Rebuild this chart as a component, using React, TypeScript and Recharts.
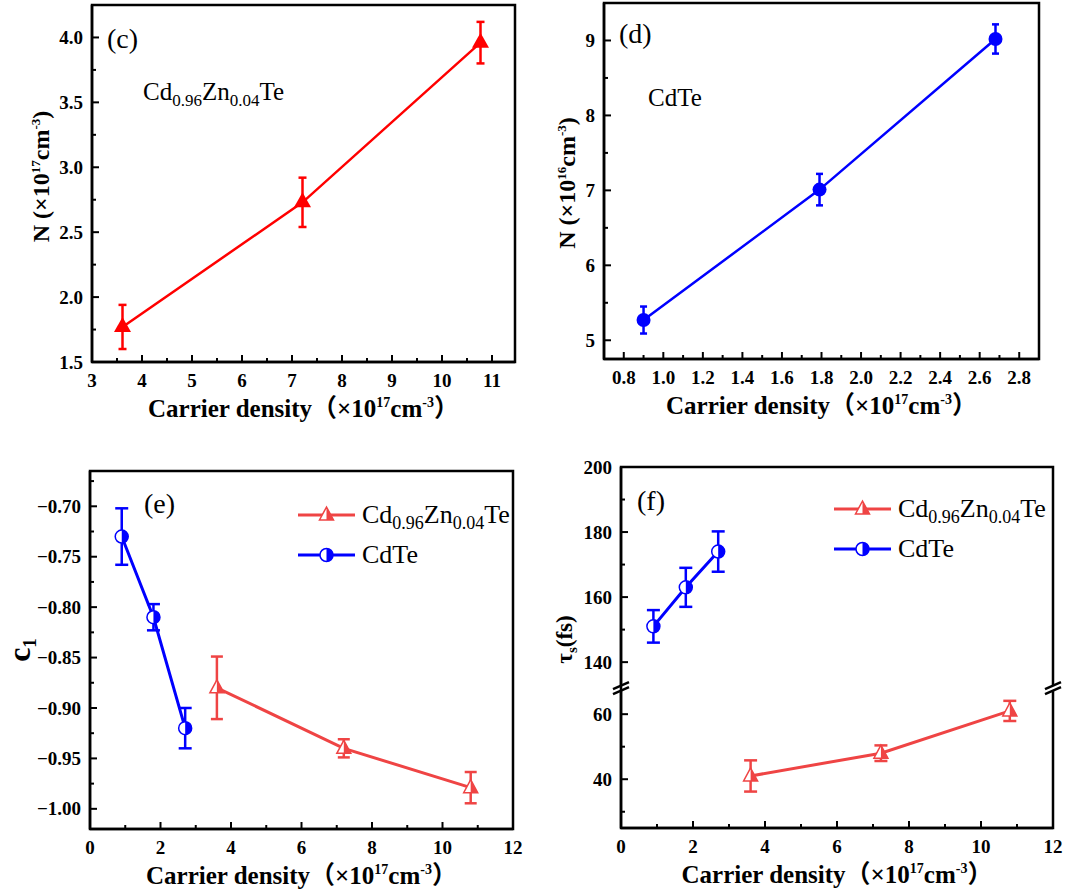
import React from "react";
import {
  LineChart,
  Line,
  XAxis,
  YAxis,
  ErrorBar,
  ReferenceArea,
  ReferenceLine,
  Legend,
} from "recharts";

const FONT = "'Liberation Serif', 'Times New Roman', 'Noto Sans CJK SC', serif";
const RED = "#ff0000";
const BLUE = "#0000ff";
const RED2 = "#ef4444";

const czName = "Cd0.96Zn0.04Te";
const cdName = "CdTe";

// (c) Cd0.96Zn0.04Te, N vs carrier density
const cDensity = [3.61, 7.21, 10.77];
const cN = [1.77, 2.73, 3.96];
const cNErr = [0.17, 0.19, 0.16];
const cXMajor = [3, 4, 5, 6, 7, 8, 9, 10, 11];
const cXMinor = [3.5, 4.5, 5.5, 6.5, 7.5, 8.5, 9.5, 10.5];
const cYMajor = [1.5, 2.0, 2.5, 3.0, 3.5, 4.0];
const cYMinor = [1.75, 2.25, 2.75, 3.25, 3.75];

// (d) CdTe, N vs carrier density
const dDensity = [0.9, 1.79, 2.68];
const dN = [5.27, 7.01, 9.02];
const dNErr = [0.18, 0.21, 0.195];
const dXMajor = [0.8, 1.0, 1.2, 1.4, 1.6, 1.8, 2.0, 2.2, 2.4, 2.6, 2.8];
const dXMinor = [0.9, 1.1, 1.3, 1.5, 1.7, 1.9, 2.1, 2.3, 2.5, 2.7];
const dYMajor = [5, 6, 7, 8, 9];
const dYMinor = [5.5, 6.5, 7.5, 8.5];

// (e) c1
const eCdDensity = [0.9, 1.8, 2.7];
const eCdC1 = [-0.73, -0.81, -0.92];
const eCdErr = [0.028, 0.013, 0.02];
const eCzDensity = [3.6, 7.2, 10.8];
const eCzC1 = [-0.88, -0.94, -0.979];
const eCzErr = [0.031, 0.009, 0.0155];
const eXMajor = [0, 2, 4, 6, 8, 10, 12];
const eXMinor = [1, 3, 5, 7, 9, 11];
const eYMajor = [-1.0, -0.95, -0.9, -0.85, -0.8, -0.75, -0.7];
const eYMinor = [-0.975, -0.925, -0.875, -0.825, -0.775, -0.725, -0.675];

// (f) tau_s, broken y axis
const fCdDensity = [0.9, 1.8, 2.7];
const fCdTau = [151, 163, 174];
const fCdErr = [5, 6, 6.2];
const fCzDensity = [3.6, 7.22, 10.8];
const fCzTau = [41, 48, 61];
const fCzErr = [4.8, 2.4, 3.1];
const fYMajor = [40, 60, 140, 160, 180, 200];
const fYMinor = [30, 50, 150, 170, 190];

// broken axis: lower part 25..68, upper part 132..200
const LOW_TOP = 68;
const GAP = 64;
const brk = (v: number) => (v > LOW_TOP ? v - GAP : v);
const unbrk = (v: number) => (v > LOW_TOP ? v + GAP : v);

const rows = (xs: number[], ys: number[], errs: number[], f = (v: number) => v) =>
  xs.map((x, i) => ({ x, y: f(ys[i]), err: errs[i] }));

const has = (arr: number[], v: number) => arr.some((m) => Math.abs(m - v) < 1e-6);

const xTick = (majors: number[], fmt: (v: number) => string) => (p: any) => {
  const { x, y, payload } = p;
  const major = has(majors, payload.value);
  return (
    <g>
      <line x1={x} y1={y} x2={x} y2={y - (major ? 7 : 4)} stroke="#000" strokeWidth={2} />
      {major && (
        <text x={x} y={y + 25} textAnchor="middle" fontFamily={FONT} fontWeight="bold" fontSize={19} fill="#000">
          {fmt(payload.value)}
        </text>
      )}
    </g>
  );
};

const yTick = (majors: number[], fmt: (v: number) => string) => (p: any) => {
  const { x, y, payload } = p;
  const major = has(majors, fmt === fmtBrk ? unbrk(payload.value) : payload.value);
  return (
    <g>
      <line x1={x} y1={y} x2={x + (major ? 7 : 4)} y2={y} stroke="#000" strokeWidth={2} />
      {major && (
        <text x={x - 9} y={y} dy="0.35em" textAnchor="end" fontFamily={FONT} fontWeight="bold" fontSize={19} fill="#000">
          {fmt(payload.value)}
        </text>
      )}
    </g>
  );
};

const fmtInt = (v: number) => String(Math.round(v));
const fmt1 = (v: number) => v.toFixed(1);
const fmtNeg = (v: number) => "\u2212" + Math.abs(v).toFixed(2);
const fmtBrk = (v: number) => String(Math.round(unbrk(v)));

// chemical formula with subscripts
const formula = (s: string, sub: number) =>
  s.split(/(\d+\.\d+)/).map((part, i) =>
    i % 2 === 1 ? (
      <tspan key={i} dy={6} fontSize={sub}>{part}</tspan>
    ) : (
      <tspan key={i} dy={i === 0 ? 0 : -6}>{part}</tspan>
    )
  );

const XTitle = ({ viewBox }: any) => (
  <text
    x={viewBox.x + viewBox.width / 2}
    y={viewBox.y + 55}
    textAnchor="middle"
    fontFamily={FONT}
    fontWeight="bold"
    fontSize={25}
    fill="#000"
  >
    Carrier density（×10<tspan dy={-10} fontSize={14}>17</tspan>
    <tspan dy={10}>cm</tspan>
    <tspan dy={-10} fontSize={14}>-3</tspan>
    <tspan dy={10}>）</tspan>
  </text>
);

const nTitle = (exp: string, dx: number, dy: number) => ({ viewBox }: any) => {
  const x = viewBox.x + viewBox.width - dx;
  const y = viewBox.y + viewBox.height / 2 + dy;
  return (
    <text
      transform={`translate(${x},${y}) rotate(-90)`}
      textAnchor="middle"
      fontFamily={FONT}
      fontWeight="bold"
      fontSize={24}
      fill="#000"
    >
      N (×10<tspan dy={-9} fontSize={13}>{exp}</tspan>
      <tspan dy={9}>cm</tspan>
      <tspan dy={-9} fontSize={13}>-3</tspan>
      <tspan dy={9}>)</tspan>
    </text>
  );
};

const C1Title = ({ viewBox }: any) => {
  const x = viewBox.x + viewBox.width - 60;
  const y = viewBox.y + viewBox.height / 2;
  return (
    <text transform={`translate(${x},${y}) rotate(-90)`} textAnchor="middle" fontFamily={FONT} fontWeight="bold" fontSize={32} fill="#000">
      c<tspan dy={6} fontSize={19}>1</tspan>
    </text>
  );
};

const TauTitle = ({ viewBox }: any) => {
  const x = viewBox.x + viewBox.width - 49;
  const y = viewBox.y + viewBox.height / 2 - 8;
  return (
    <text transform={`translate(${x},${y}) rotate(-90)`} textAnchor="middle" fontFamily={FONT} fontWeight="bold" fontSize={23} fill="#000">
      τ<tspan dy={5} fontSize={15}>s</tspan>
      <tspan dy={-5}>(fs)</tspan>
    </text>
  );
};

// markers
const fullTriangle = (cx: number, cy: number, color: string) => (
  <polygon points={`${cx},${cy - 10} ${cx - 8.5},${cy + 5} ${cx + 8.5},${cy + 5}`} fill={color} />
);
const fullCircle = (cx: number, cy: number, color: string) => <circle cx={cx} cy={cy} r={7} fill={color} />;
const halfTriangle = (cx: number, cy: number, color: string) => (
  <g>
    <polygon points={`${cx},${cy - 8} ${cx - 7},${cy + 5} ${cx + 7},${cy + 5}`} fill="#fff" stroke={color} strokeWidth={1.5} />
    <polygon points={`${cx},${cy - 8} ${cx + 7},${cy + 5} ${cx},${cy + 5}`} fill={color} />
  </g>
);
const halfCircle = (cx: number, cy: number, color: string) => (
  <g>
    <circle cx={cx} cy={cy} r={6.5} fill="#fff" stroke={color} strokeWidth={1.5} />
    <path d={`M${cx},${cy - 6.5} A6.5,6.5 0 0 1 ${cx},${cy + 6.5} Z`} fill={color} />
  </g>
);

const dot = (draw: (cx: number, cy: number, c: string) => React.ReactElement, color: string) => (p: any) => (
  <g key={p.key}>{p.cx != null && p.cy != null ? draw(p.cx, p.cy, color) : null}</g>
);

const markers: Record<string, (cx: number, cy: number, c: string) => React.ReactElement> = {
  [czName]: halfTriangle,
  [cdName]: halfCircle,
};

const legendContent = ({ payload }: any) => (
  <svg width={240} height={90} style={{ overflow: "visible" }}>
    {(payload || []).map((e: any, i: number) => {
      const y = 12 + i * 40;
      return (
        <g key={i}>
          <line x1={0} x2={57} y1={y} y2={y} stroke={e.color} strokeWidth={3} />
          {markers[e.value](28.5, y, e.color)}
          <text x={64} y={y + 8} fontFamily={FONT} fontSize={26} fill="#000">
            {formula(e.value, 18)}
          </text>
        </g>
      );
    })}
  </svg>
);

const BreakMarks = (p: any) => {
  const y = p.y1;
  return (
    <g>
      {[p.x1, p.x2].map((x: number, i: number) => (
        <g key={i}>
          <rect x={x - 3} y={y - 3} width={6} height={6} fill="#fff" />
          <line x1={x - 8} y1={y + 1} x2={x + 8} y2={y - 6} stroke="#000" strokeWidth={2.5} />
          <line x1={x - 8} y1={y + 6} x2={x + 8} y2={y - 1} stroke="#000" strokeWidth={2.5} />
        </g>
      ))}
    </g>
  );
};

type Box = { L: number; T: number; R: number; B: number };
const chartStyle = (b: Box): React.CSSProperties => ({ position: "absolute", left: b.L - 100, top: b.T - 10 });
const chartSize = (b: Box) => ({ width: b.R - b.L + 130, height: b.B - b.T + 80 });
const MARGIN = { top: 10, right: 30, left: 0, bottom: 0 };

const boxC: Box = { L: 92, T: 5, R: 515, B: 362 };
const boxD: Box = { L: 604, T: 3, R: 1039, B: 359 };
const boxE: Box = { L: 90, T: 471, R: 513, B: 829 };
const boxF: Box = { L: 621, T: 467, R: 1053, B: 828 };

const axisLine = { stroke: "#000", strokeWidth: 2.5 };
const txt = { fontFamily: FONT, fill: "#000" };

const App = () => {
  const cData = rows(cDensity, cN, cNErr);
  const dData = rows(dDensity, dN, dNErr);
  const eCd = rows(eCdDensity, eCdC1, eCdErr);
  const eCz = rows(eCzDensity, eCzC1, eCzErr);
  const fCd = rows(fCdDensity, fCdTau, fCdErr, brk);
  const fCz = rows(fCzDensity, fCzTau, fCzErr, brk);

  return (
    <div style={{ position: "absolute", left: 0, top: 0, width: 1070, height: 894, background: "#fff", fontFamily: FONT }}>
      {/* (c) */}
      <div style={chartStyle(boxC)}>
        <LineChart {...chartSize(boxC)} margin={MARGIN}>
          <XAxis dataKey="x" type="number" domain={[3, 11.46]} ticks={[...cXMajor, ...cXMinor]} interval={0}
            height={70} tickSize={0} tickMargin={0} tickLine={false} axisLine={axisLine}
            tick={xTick(cXMajor, fmtInt)} label={XTitle} />
          <YAxis type="number" domain={[1.5, 4.25]} ticks={[...cYMajor, ...cYMinor]} interval={0}
            width={100} tickSize={0} tickMargin={0} tickLine={false} axisLine={axisLine}
            tick={yTick(cYMajor, fmt1)} label={nTitle("17", 43, -7)} />
          <ReferenceArea x1={3} x2={11.46} y1={1.5} y2={4.25} fill="none" stroke="#000" strokeWidth={2.5} />
          <Line data={cData} dataKey="y" stroke={RED} strokeWidth={2.5} isAnimationActive={false}
            dot={dot(fullTriangle, RED)}>
            <ErrorBar dataKey="err" width={4} stroke={RED} strokeWidth={2.5} />
          </Line>
          <text x={115} y={53} fontSize={28} {...txt}>(c)</text>
          <text x={151} y={105} fontSize={25} {...txt}>{formula(czName, 17)}</text>
        </LineChart>
      </div>

      {/* (d) */}
      <div style={chartStyle(boxD)}>
        <LineChart {...chartSize(boxD)} margin={MARGIN}>
          <XAxis dataKey="x" type="number" domain={[0.7, 2.9]} ticks={[...dXMajor, ...dXMinor]} interval={0}
            height={70} tickSize={0} tickMargin={0} tickLine={false} axisLine={axisLine}
            tick={xTick(dXMajor, fmt1)} label={XTitle} />
          <YAxis type="number" domain={[4.75, 9.5]} ticks={[...dYMajor, ...dYMinor]} interval={0}
            width={100} tickSize={0} tickMargin={0} tickLine={false} axisLine={axisLine}
            tick={yTick(dYMajor, fmtInt)} label={nTitle("16", 29, 2)} />
          <ReferenceArea x1={0.7} x2={2.9} y1={4.75} y2={9.5} fill="none" stroke="#000" strokeWidth={2.5} />
          <Line data={dData} dataKey="y" stroke={BLUE} strokeWidth={2.5} isAnimationActive={false}
            dot={dot(fullCircle, BLUE)}>
            <ErrorBar dataKey="err" width={3.5} stroke={BLUE} strokeWidth={2.5} />
          </Line>
          <text x={115} y={50} fontSize={28} {...txt}>(d)</text>
          <text x={144} y={113} fontSize={25} {...txt}>CdTe</text>
        </LineChart>
      </div>

      {/* (e) */}
      <div style={chartStyle(boxE)}>
        <LineChart {...chartSize(boxE)} margin={MARGIN}>
          <XAxis dataKey="x" type="number" domain={[0, 12]} ticks={[...eXMajor, ...eXMinor]} interval={0}
            height={70} tickSize={0} tickMargin={0} tickLine={false} axisLine={axisLine}
            tick={xTick(eXMajor, fmtInt)} label={XTitle} />
          <YAxis type="number" domain={[-1.02, -0.665]} ticks={[...eYMajor, ...eYMinor]} interval={0}
            width={100} tickSize={0} tickMargin={0} tickLine={false} axisLine={axisLine}
            tick={yTick(eYMajor, fmtNeg)} label={C1Title} />
          <ReferenceArea x1={0} x2={12} y1={-1.02} y2={-0.665} fill="none" stroke="#000" strokeWidth={2.5} />
          <Line name={czName} data={eCz} dataKey="y" stroke={RED2} strokeWidth={3} isAnimationActive={false}
            dot={dot(halfTriangle, RED2)}>
            <ErrorBar dataKey="err" width={6} stroke={RED2} strokeWidth={2.5} />
          </Line>
          <Line name={cdName} data={eCd} dataKey="y" stroke={BLUE} strokeWidth={3} isAnimationActive={false}
            dot={dot(halfCircle, BLUE)}>
            <ErrorBar dataKey="err" width={6.5} stroke={BLUE} strokeWidth={2.5} />
          </Line>
          <Legend layout="horizontal" verticalAlign="middle" align="center" content={legendContent}
            wrapperStyle={{ left: 308, top: 42, width: 240, height: 90 }} />
          <text x={154} y={52} fontSize={28} {...txt}>(e)</text>
        </LineChart>
      </div>

      {/* (f) */}
      <div style={chartStyle(boxF)}>
        <LineChart {...chartSize(boxF)} margin={MARGIN}>
          <XAxis dataKey="x" type="number" domain={[0, 12]} ticks={[...eXMajor, ...eXMinor]} interval={0}
            height={70} tickSize={0} tickMargin={0} tickLine={false} axisLine={axisLine}
            tick={xTick(eXMajor, fmtInt)} label={XTitle} />
          <YAxis type="number" domain={[25, brk(200)]} ticks={[...fYMajor, ...fYMinor].map(brk)} interval={0}
            width={100} tickSize={0} tickMargin={0} tickLine={false} axisLine={axisLine}
            tick={yTick(fYMajor, fmtBrk)} label={TauTitle} />
          <ReferenceArea x1={0} x2={12} y1={25} y2={brk(200)} fill="none" stroke="#000" strokeWidth={2.5} />
          <ReferenceLine y={LOW_TOP} shape={BreakMarks} />
          <Line name={czName} data={fCz} dataKey="y" stroke={RED2} strokeWidth={3} isAnimationActive={false}
            dot={dot(halfTriangle, RED2)}>
            <ErrorBar dataKey="err" width={6.5} stroke={RED2} strokeWidth={2.5} />
          </Line>
          <Line name={cdName} data={fCd} dataKey="y" stroke={BLUE} strokeWidth={3} isAnimationActive={false}
            dot={dot(halfCircle, BLUE)}>
            <ErrorBar dataKey="err" width={6.5} stroke={BLUE} strokeWidth={2.5} />
          </Line>
          <Legend layout="horizontal" verticalAlign="middle" align="center" content={legendContent}
            wrapperStyle={{ left: 313, top: 40, width: 240, height: 90 }} />
          <text x={116} y={53} fontSize={28} {...txt}>(f)</text>
        </LineChart>
      </div>
    </div>
  );
};

export default App;
